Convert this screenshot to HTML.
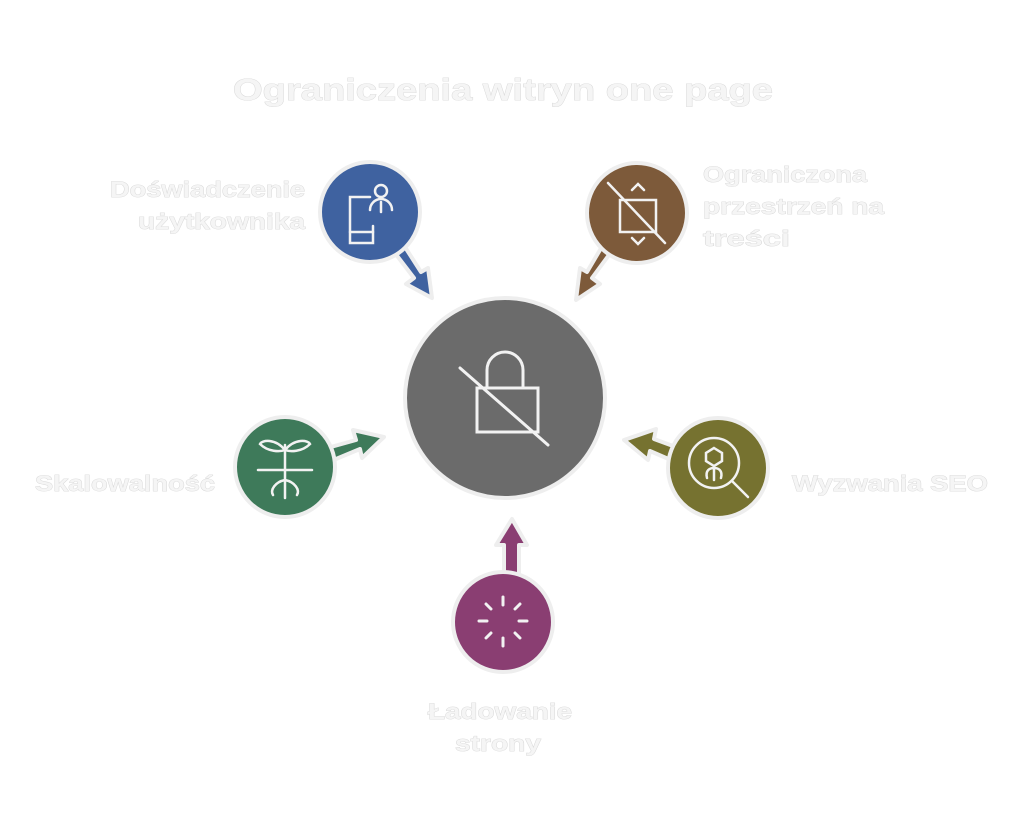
<!DOCTYPE html>
<html><head><meta charset="utf-8"><style>
html,body{margin:0;padding:0;background:#fff;}
svg{display:block}
text{font-family:"Liberation Sans","DejaVu Sans",sans-serif;font-weight:bold;fill:#f5f5f5;stroke:#d6d6d6;stroke-width:0.8;paint-order:stroke}
</style></head><body>
<svg width="1024" height="822" viewBox="0 0 1024 822" xmlns="http://www.w3.org/2000/svg">
<text x="233" y="100" font-size="31" textLength="540" lengthAdjust="spacingAndGlyphs">Ograniczenia witryn one page</text>

<g stroke-linejoin="round">
 <path d="M385 240 L414 278 L406 284 L432 298 L428 268 L421 272 L396 233Z" fill="#3f62a0" stroke="#eee" stroke-width="4"/>
 <path d="M620 240 L592 278 L600 284 L576 300 L580 268 L587 272 L610 233Z" fill="#7d5a3a" stroke="#eee" stroke-width="4"/>
 <path d="M320 450 L356 440 L353 430 L384 437 L362 458 L360 449 L324 464Z" fill="#3e7a5a" stroke="#eee" stroke-width="4"/>
 <path d="M684 450 L654 439 L656 429 L624 440 L648 460 L650 451 L680 464Z" fill="#767230" stroke="#eee" stroke-width="4"/>
 <path d="M504 585 L504 545 L496 545 L512 519 L527 545 L519 545 L519 585Z" fill="#8a3e72" stroke="#eee" stroke-width="4"/>
</g>

<circle cx="505" cy="398" r="100" fill="#6b6b6b" stroke="#eee" stroke-width="4"/>
<g fill="none" stroke="#f2f2f2" stroke-width="3" stroke-linecap="round">
 <path d="M487 388 V370 A18 18 0 0 1 523 370 V388"/>
 <path d="M477 388 H538 V432 H477Z"/>
 <path d="M460 368 L548 445"/>
</g>

<circle cx="370" cy="212" r="50" fill="#3f62a0" stroke="#eee" stroke-width="4"/>
<g fill="none" stroke="#f2f2f2" stroke-width="2.5" stroke-linecap="round">
 <path d="M370 197 H350 V243 H373 V226"/>
 <path d="M350 232 H373"/>
 <circle cx="381" cy="191" r="6"/>
 <path d="M370 210 A11 11 0 0 1 392 210 M381 202 V212"/>
</g>

<circle cx="637" cy="213" r="50" fill="#7d5a3a" stroke="#eee" stroke-width="4"/>
<g fill="none" stroke="#f2f2f2" stroke-width="2.5" stroke-linecap="round">
 <path d="M620 200 H656 V232 H620Z"/>
 <path d="M632 190 L638 184 L644 190 M632 238 L638 244 L644 238"/>
 <path d="M608 183 L665 243"/>
</g>

<circle cx="285" cy="467" r="50" fill="#3e7a5a" stroke="#eee" stroke-width="4"/>
<g fill="none" stroke="#f2f2f2" stroke-width="2.5" stroke-linecap="round">
 <path d="M285 445 V498 M258 470 H312"/>
 <path d="M285 450 C275 438 262 440 260 444 C268 452 280 452 285 450Z"/>
 <path d="M285 450 C295 438 308 440 310 444 C302 452 290 452 285 450Z"/>
 <path d="M285 480 C275 482 270 490 273 495 M285 480 C295 482 300 490 297 495"/>
</g>

<circle cx="718" cy="468" r="50" fill="#767230" stroke="#eee" stroke-width="4"/>
<g fill="none" stroke="#f2f2f2" stroke-width="2.5" stroke-linecap="round">
 <circle cx="714" cy="463" r="25"/>
 <path d="M732 481 L748 497"/>
 <path d="M714 448 L722 453 V461 L714 466 L706 461 V453Z"/>
 <path d="M707 478 C705 470 710 468 714 468 C718 468 723 470 721 478 M714 468 V480"/>
</g>

<circle cx="503" cy="622" r="50" fill="#8a3e72" stroke="#eee" stroke-width="4"/>
<g fill="none" stroke="#f2f2f2" stroke-width="3" stroke-linecap="round">
 <path d="M503 597 V605 M503 638 V646 M479 621 H487 M519 621 H527"/>
 <path d="M486 604 L491 609 M515 633 L520 638 M520 604 L515 609 M491 633 L486 638"/>
</g>

<g font-size="22" lengthAdjust="spacingAndGlyphs">
<text x="110" y="197" textLength="195" lengthAdjust="spacingAndGlyphs">Doświadczenie</text>
<text x="138" y="229" textLength="167" lengthAdjust="spacingAndGlyphs">użytkownika</text>
<text x="703" y="182" textLength="164" lengthAdjust="spacingAndGlyphs">Ograniczona</text>
<text x="703" y="214" textLength="181" lengthAdjust="spacingAndGlyphs">przestrzeń na</text>
<text x="703" y="246" textLength="87" lengthAdjust="spacingAndGlyphs">treści</text>
<text x="35" y="491" textLength="180" lengthAdjust="spacingAndGlyphs">Skalowalność</text>
<text x="792" y="491" textLength="196" lengthAdjust="spacingAndGlyphs">Wyzwania SEO</text>
<text x="428" y="719" textLength="144" lengthAdjust="spacingAndGlyphs">Ładowanie</text>
<text x="455" y="751" textLength="86" lengthAdjust="spacingAndGlyphs">strony</text>
</g>
</svg>
</body></html>
